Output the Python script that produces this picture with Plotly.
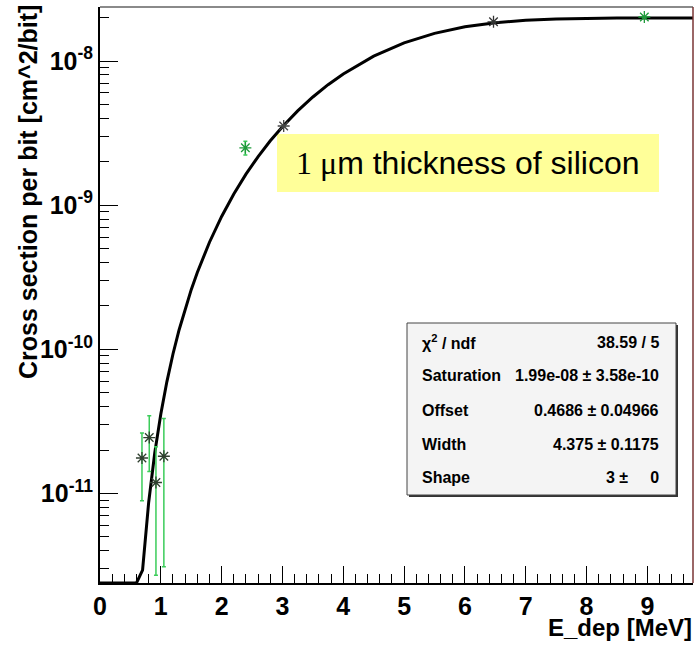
import plotly.graph_objects as go
import math

# ---------------- data ----------------
E_DEP = [0.69, 0.81, 0.92, 1.05, 2.39, 3.02, 6.47, 8.95]
XSEC = [1.76e-11, 2.44e-11, 1.19e-11, 1.81e-11, 2.50e-9, 3.54e-9, 1.87e-8, 2.02e-8]
XSEC_ERR = [0.87e-11, 1.02e-11, 0.92e-11, 1.50e-11, 0.27e-9, 0.0, 0.0, 0.0]
POINT_COLORS = ["#2f3f2f", "#2f3f2f", "#2f3f2f", "#2f3f2f", "#1e9a3a", "#444444", "#333333", "#1e9a3a"]

# Weibull fit curve values (Saturation 1.99e-08, Offset 0.4686, Width 4.375, Shape 3)
FIT_X = [0.0, 0.6, 0.7, 0.8, 0.9, 1.0, 1.1, 1.2, 1.3, 1.4, 1.5, 1.6, 1.8, 2.0, 2.2, 2.4,
         2.6, 2.8, 3.0, 3.25, 3.5, 3.75, 4.0, 4.5, 5.0, 5.5, 6.0, 6.5, 7.0, 7.5, 8.0,
         8.5, 9.0, 9.75]
FIT_Y = [None, None, 2.94e-12, 8.65e-12, 1.907e-11, 3.56e-11, 5.97e-11, 9.275e-11,
         1.361e-10, 1.911e-10, 2.591e-10, 3.41e-10, 5.53e-10, 8.35e-10, 1.196e-9,
         1.640e-9, 2.173e-9, 2.795e-9, 3.504e-9, 4.509e-9, 5.631e-9, 6.850e-9,
         8.138e-9, 1.080e-8, 1.335e-8, 1.555e-8, 1.726e-8, 1.845e-8, 1.919e-8,
         1.959e-8, 1.978e-8, 1.986e-8, 1.989e-8, 1.99e-8]

X_RANGE = [0.0, 9.75]
Y_MIN = 2.39e-12
Y_MAX = 2.37e-8

Y_MAJOR = [1e-11, 1e-10, 1e-9, 1e-8]
Y_MAJOR_TEXT = ["10<sup>-11</sup>", "10<sup>-10</sup>", "10<sup>-9</sup>", "10<sup>-8</sup>"]
X_MAJOR = [0, 1, 2, 3, 4, 5, 6, 7, 8, 9]

STATS_LABELS = ["χ<sup>2</sup> / ndf", "Saturation", "Offset", "Width", "Shape"]
STATS_VALUES = ["38.59 / 5", "1.99e-08 ± 3.58e-10", "0.4686 ± 0.04966",
                "4.375 ± 0.1175", "3 ±     0"]

# curve below the frame minimum is drawn along the frame bottom (ROOT clipping)
fit_y_drawn = [Y_MIN if (v is None or v < Y_MIN) else v for v in FIT_Y]

y_minor = []
for d in range(-12, -7):
    for m in range(2, 10):
        v = m * 10.0 ** d
        if Y_MIN < v < Y_MAX:
            y_minor.append(v)
x_minor = [round(i * 0.2, 2) for i in range(0, 49) if round(i * 0.2, 2) % 1 != 0]

W, H = 696, 645
ML, MR, MT, MB = 100, 3, 7, 62
PW, PH = W - ML - MR, H - MT - MB


def px(xp):
    return (xp - ML) / PW


def py(yp):
    return (H - MB - yp) / PH


fig = go.Figure()

fig.add_trace(go.Scatter(
    x=FIT_X, y=fit_y_drawn, mode="lines",
    line=dict(color="black", width=3), hoverinfo="skip", showlegend=False))

fig.add_trace(go.Scatter(
    x=E_DEP, y=XSEC, mode="markers",
    marker=dict(symbol="asterisk-open", size=10,
                line=dict(color=POINT_COLORS, width=1.3), color=POINT_COLORS),
    error_y=dict(type="data", array=XSEC_ERR, visible=True,
                 color="#3ccc5a", thickness=1.5, width=2),
    showlegend=False))

FAM = "Liberation Sans, Arial, sans-serif"
xtickfont = dict(family=FAM, size=25, color="black", weight="bold")
ytickfont = dict(family=FAM, size=25, color="black", weight="bold")
titlefont = dict(family=FAM, size=24, color="black", weight="bold")

fig.update_layout(
    width=W, height=H,
    margin=dict(l=ML, r=MR, t=MT, b=MB),
    paper_bgcolor="white", plot_bgcolor="white",
    xaxis=dict(range=X_RANGE, showgrid=False, zeroline=False,
               showline=True, linecolor="black", linewidth=2,
               ticks="inside", ticklen=17, tickwidth=1.3, tickcolor="black",
               tickmode="array", tickvals=X_MAJOR,
               ticktext=[str(v) for v in X_MAJOR],
               tickfont=xtickfont, ticklabelstandoff=0,
               minor=dict(tickmode="array", tickvals=x_minor, ticks="inside",
                          ticklen=9, tickwidth=1.2, tickcolor="black", showgrid=False)),
    yaxis=dict(type="log", range=[math.log10(Y_MIN), math.log10(Y_MAX)],
               showgrid=False, zeroline=False,
               showline=True, linecolor="black", linewidth=2,
               ticks="inside", ticklen=18, tickwidth=1.3, tickcolor="black",
               tickmode="array", tickvals=Y_MAJOR, ticktext=Y_MAJOR_TEXT,
               tickfont=ytickfont, ticklabelstandoff=0,
               minor=dict(tickmode="array", tickvals=y_minor, ticks="inside",
                          ticklen=9, tickwidth=1.2, tickcolor="black", showgrid=False)),
)

shapes = []
shapes.append(dict(type="line", xref="paper", yref="paper", x0=0, x1=1, y0=1, y1=1,
                   line=dict(color="#8a8a8a", width=2)))
shapes.append(dict(type="line", xref="paper", yref="paper", x0=1, x1=1, y0=0, y1=1,
                   line=dict(color="#7a3535", width=1.5)))
shapes.append(dict(type="rect", xref="paper", yref="paper",
                   x0=px(277), x1=px(659), y0=py(192), y1=py(134),
                   fillcolor="#ffff99", line=dict(width=0), layer="below"))
shapes.append(dict(type="rect", xref="paper", yref="paper",
                   x0=px(409), x1=px(678), y0=py(497), y1=py(325),
                   fillcolor="#333333", line=dict(width=0)))
shapes.append(dict(type="rect", xref="paper", yref="paper",
                   x0=px(407), x1=px(676), y0=py(495), y1=py(323),
                   fillcolor="#f4f4f4", line=dict(color="#444444", width=1)))
fig.update_layout(shapes=shapes)

ann = []
ann.append(dict(xref="paper", yref="paper", x=px(28), y=py(3),
                text="Cross section per bit [cm^2/bit]", textangle=-90,
                showarrow=False, xanchor="center", yanchor="top",
                font=dict(family=FAM, size=25, color="black", weight="bold")))
ann.append(dict(xref="paper", yref="paper", x=px(694), y=py(643),
                text="E_dep [MeV]", showarrow=False, xanchor="right", yanchor="bottom",
                font=titlefont))
ann.append(dict(xref="paper", yref="paper", x=px(467), y=py(163),
                text='<span style="font-family:Liberation Serif, Times New Roman, serif">1 μ</span>m thickness of silicon',
                showarrow=False, xanchor="center", yanchor="middle",
                font=dict(family=FAM, size=32, color="black")))
rows_y = [342, 375, 410, 444, 477]
sfont = dict(family=FAM, size=16, color="black", weight="bold")
for lab, val, yy in zip(STATS_LABELS, STATS_VALUES, rows_y):
    ann.append(dict(xref="paper", yref="paper", x=px(420), y=py(yy), text=lab,
                    showarrow=False, xanchor="left", yanchor="middle", font=sfont))
    ann.append(dict(xref="paper", yref="paper", x=px(661), y=py(yy), text=val,
                    showarrow=False, xanchor="right", yanchor="middle", font=sfont))
fig.update_layout(annotations=ann)

fig.write_html("out.html")
